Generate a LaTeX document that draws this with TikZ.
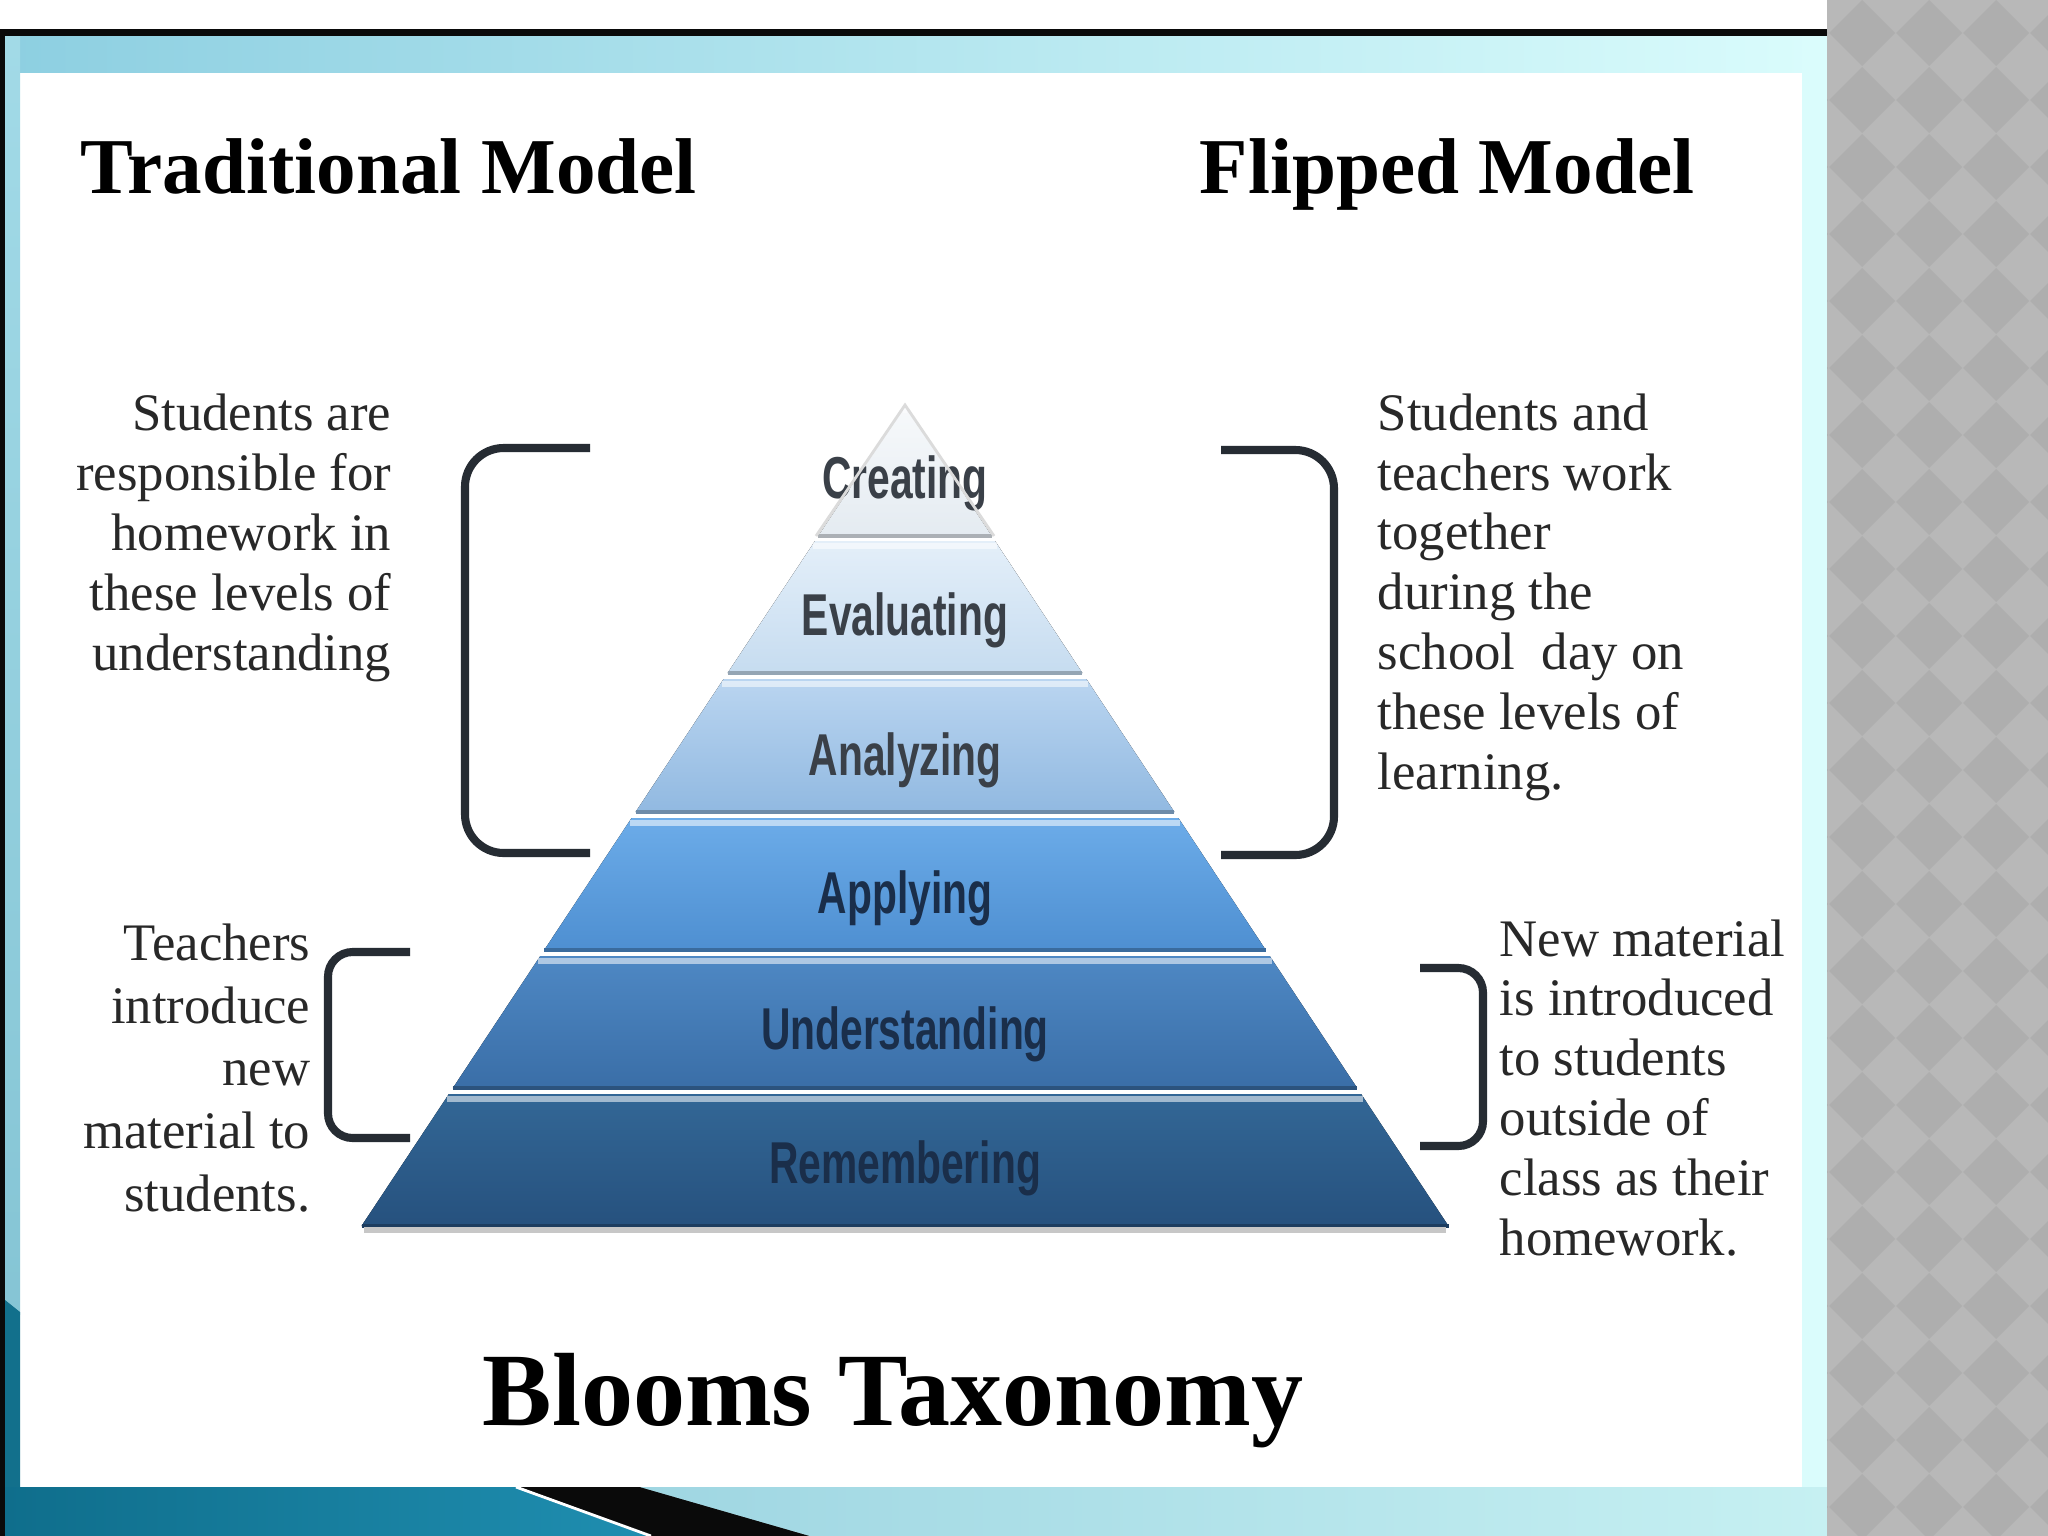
\documentclass[tikz,border=0pt]{standalone}
\usepackage{fontspec}
\setmainfont{Liberation Serif}
\newfontfamily\levelfont{Liberation Sans}[FakeStretch=0.69]
\usepackage{tikz}
\usetikzlibrary{positioning}
\definecolor{frameblack}{HTML}{0A0A0A}
\definecolor{bandleft}{HTML}{8DCFE1}
\definecolor{bandright}{HTML}{DAFCFC}
\definecolor{stripcyan}{HTML}{A2DAE7}
\definecolor{stripteal}{HTML}{12708C}
\definecolor{footdark}{HTML}{0F6E8C}
\definecolor{footmid}{HTML}{5DC0DC}
\definecolor{footend}{HTML}{1F8EB0}
\definecolor{footpale}{HTML}{9FD6E2}
\definecolor{footpaler}{HTML}{C6F0F2}
\definecolor{panelgray}{HTML}{B8B8B8}
\definecolor{diamondgray}{HTML}{AEAEAE}
\definecolor{notegray}{HTML}{282828}
\definecolor{bracegray}{HTML}{262C33}
\definecolor{creatop}{HTML}{F7F9FB}
\definecolor{creabot}{HTML}{E4EBF1}
\definecolor{evaltop}{HTML}{E4EFF9}
\definecolor{evalbot}{HTML}{C6DCF0}
\definecolor{analtop}{HTML}{BAD5F0}
\definecolor{analbot}{HTML}{91B9E1}
\definecolor{appltop}{HTML}{6CACE9}
\definecolor{applbot}{HTML}{4E8FD1}
\definecolor{undetop}{HTML}{4E88C4}
\definecolor{undebot}{HTML}{3A6EA7}
\definecolor{remetop}{HTML}{336796}
\definecolor{remebot}{HTML}{26517E}
\definecolor{labelgray}{HTML}{3A4048}
\definecolor{labelnavy}{HTML}{1A2E4A}

\begin{document}
\begin{tikzpicture}[
  x=0.01cm, y=-0.01cm,
  title/.style={font=\fontsize{22.5}{26}\selectfont\bfseries, inner sep=0, anchor=base west},
  sidetext/.style={font=\fontsize{15}{17}\selectfont, text=notegray, inner sep=0},
  lvl/.style={font=\levelfont\fontsize{16.8}{19}\selectfont\bfseries, inner sep=0, anchor=base},
  brace/.style={draw=bracegray, line width=2.3pt, rounded corners=11pt}
]
\useasboundingbox (0,0) rectangle (2048,1536);
% slide frame
\fill[white] (0,0) rectangle (2048,1536);
\fill[frameblack] (0,29) rectangle (1827,36);
\fill[left color=bandleft, right color=bandright] (5,36) rectangle (1827,72);
\fill[bandright] (1802,36) rectangle (1827,1487);
\fill[top color=stripcyan, bottom color=stripcyan!80!stripteal] (5,36) rectangle (20,1314);
\fill[stripteal] (5,1300) -- (20,1312) -- (20,1487) -- (5,1487) -- cycle;
\fill[frameblack] (0,29) rectangle (5,1536);
% footer band
\fill[left color=footdark, middle color=footmid, right color=footend]
  (5,1487) -- (516,1487) -- (651,1536) -- (5,1536) -- cycle;
\fill[frameblack] (516,1487) -- (640,1487) -- (810,1536) -- (651,1536) -- cycle;
\draw[white, line width=0.8pt] (516,1487) -- (651,1536);
\fill[left color=footpale, right color=footpaler]
  (640,1487) -- (1827,1487) -- (1827,1536) -- (810,1536) -- cycle;
% patterned side panel
\fill[panelgray] (1827,0) rectangle (2048,1536);
\begin{scope}
  \clip (1827,0) rectangle (2048,1536);
  \foreach \i in {-1,...,3}
    \foreach \j in {0,...,23}
      \fill[diamondgray, shift={(1862+67*\i, 33+67*\j)}]
        (-33,0) -- (0,-33) -- (33,0) -- (0,33) -- cycle;
\end{scope}

% headings
\node[title] (trad) at (80,193) {Traditional Model};
\node[title] (flip) at (1199,193) {Flipped Model};
\node[font=\fontsize{29.6}{34}\selectfont\bfseries, inner sep=0, anchor=base] (bloom)
  at (893,1425) {Blooms Taxonomy};

% pyramid levels
\foreach \nm/\yt/\yb/\ct/\cb/\tc/\ty in {
    Creating/405/536/creatop/creabot/labelgray/498,
    Evaluating/541/673/evaltop/evalbot/labelgray/635,
    Analyzing/679/812/analtop/analbot/labelgray/775,
    Applying/818/950/appltop/applbot/labelnavy/913,
    Understanding/956/1088/undetop/undebot/labelnavy/1049,
    Remembering/1094/1226/remetop/remebot/labelnavy/1183} {
  \pgfmathsetmacro\wt{0.662*(\yt-405)}
  \pgfmathsetmacro\wb{0.662*(\yb-405)}
  \fill[top color=\ct, bottom color=\cb]
    ({905-\wt},\yt) -- ({905+\wt},\yt) -- ({905+\wb},\yb) -- ({905-\wb},\yb) -- cycle;
  \draw[white, opacity=0.55, line width=1.6pt]
    ({905-\wt-2},\yt+5) -- ({905+\wt+2},\yt+5);
  \draw[\cb!75!black, line width=1pt] ({905-\wb},\yb) -- ({905+\wb},\yb);
  \node[lvl, text=\tc] (\nm) at (905,\ty) {\nm};
}
% tip outline and base shadow
\draw[black!14, line width=0.8pt] (816,536) -- (905,405) -- (994,536);
\draw[black!22, line width=1.5pt] (364,1230) -- (1446,1230);

% brackets
\draw[brace] (590,448) -- (465,448) -- (465,853) -- (590,853);
\draw[brace] (1221,450) -- (1334,450) -- (1334,855) -- (1221,855);
\draw[brace, rounded corners=7pt] (410,952) -- (328,952) -- (328,1138) -- (410,1138);
\draw[brace, rounded corners=7pt] (1420,968) -- (1483,968) -- (1483,1146) -- (1420,1146);

% side notes (placed by the baseline of their last line)
\node[sidetext, align=right, anchor=base east] (trhome) at (392,670)
  {Students are\\responsible for\\homework in\\these levels of\\understanding};
\node[sidetext, align=left, anchor=base west] (flclass) at (1377,789)
  {Students and\\teachers work\\together\\during the\\school\ \ day on\\these levels of\\learning.};
\node[sidetext, align=right, anchor=base east, font=\fontsize{15}{17.8}\selectfont] (trclass)
  at (311,1211) {Teachers\\introduce\\new\\material to\\students.};
\node[sidetext, align=left, anchor=base west] (flhome) at (1499,1255)
  {New material\\is introduced\\to students\\outside of\\class as their\\homework.};
\end{tikzpicture}
\end{document}
